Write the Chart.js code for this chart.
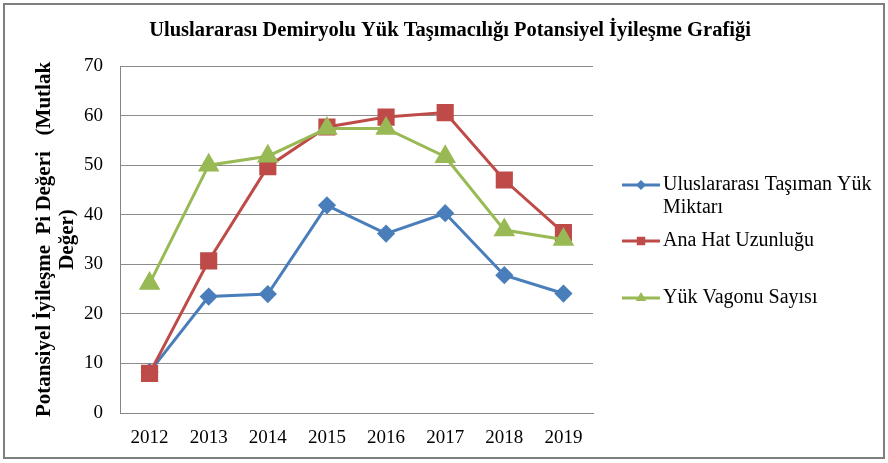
<!DOCTYPE html>
<html>
<head>
<meta charset="utf-8">
<script src="https://cdn.jsdelivr.net/npm/chart.js@4/dist/chart.umd.min.js"></script>
<style>
  html, body { margin: 0; padding: 0; background: #fff; }
  #wrap { position: relative; width: 888px; height: 463px; }
  #frame { position: absolute; left: 3px; top: 3px; width: 878px; height: 452px; border: 2px solid #7f7f7f; pointer-events: none; }
  canvas { display: block; }
</style>
</head>
<body>
<div id="wrap">
  <canvas id="chart" width="888" height="463"></canvas>
  <div id="frame"></div>
</div>
<script>
// --- Veriler ---
const years = ['2012', '2013', '2014', '2015', '2016', '2017', '2018', '2019'];
const tasimanYuk = [8.3, 23.5, 24.0, 41.9, 36.2, 40.3, 27.8, 24.1];
const anaHat = [8.0, 30.7, 49.7, 57.7, 59.7, 60.6, 47.0, 36.4];
const vagonSayisi = [26.1, 50.0, 51.8, 57.4, 57.4, 51.7, 36.9, 35.0];

const chartTitle = 'Uluslararası Demiryolu Yük Taşımacılığı Potansiyel İyileşme Grafiği';
const yTitle = ['Potansiyel İyileşme  Pi Değeri   (Mutlak', 'Değer)'];
const legendLabels = [['Uluslararası Taşıman Yük', 'Miktarı'], ['Ana Hat Uzunluğu'], ['Yük Vagonu Sayısı']];

const serif = "'Liberation Serif', 'Times New Roman', serif";

// Başlık ve lejant (Excel tarzı) - elle çiziliyor
const titleLegendPlugin = {
    id: 'titleLegend',
    afterDraw(chart) {
        const ctx = chart.ctx;
        ctx.save();
        ctx.fillStyle = '#000';
        ctx.font = 'bold 20.5px ' + serif;
        ctx.textAlign = 'center';
        ctx.textBaseline = 'middle';
        ctx.fillText(chartTitle, 450, 31);

        const itemY = [185, 241, 298];
        ctx.font = '20px ' + serif;
        ctx.textAlign = 'left';
        chart.data.datasets.forEach((ds, i) => {
            const y = itemY[i];
            ctx.strokeStyle = ds.borderColor;
            ctx.lineWidth = 3;
            ctx.beginPath();
            ctx.moveTo(622, y);
            ctx.lineTo(660, y);
            ctx.stroke();
            ctx.fillStyle = ds.pointBackgroundColor;
            Chart.helpers.drawPoint(ctx, {
                pointStyle: ds.pointStyle,
                radius: ds.legendRadius,
                borderWidth: 0
            }, 641, y);
            ctx.fillStyle = '#000';
            legendLabels[i].forEach((line, j) => {
                ctx.fillText(line, 663, y + j * 23);
            });
        });
        ctx.restore();
    }
};

const ctx = document.getElementById('chart').getContext('2d');

new Chart(ctx, {
    type: 'line',
    data: {
        labels: years,
        datasets: [{
            label: 'Uluslararası Taşıman Yük Miktarı',
            data: tasimanYuk,
            borderColor: '#4A7EBB',
            backgroundColor: '#4A7EBB',
            pointBackgroundColor: '#4A7EBB',
            pointBorderColor: '#4A7EBB',
            pointStyle: 'rectRot',
            pointRadius: 7,
            legendRadius: 5,
            borderWidth: 3,
            tension: 0,
            order: 2
        }, {
            label: 'Ana Hat Uzunluğu',
            data: anaHat,
            borderColor: '#BE4B48',
            backgroundColor: '#BE4B48',
            pointBackgroundColor: '#BE4B48',
            pointBorderColor: '#BE4B48',
            pointStyle: 'rect',
            pointRadius: 10,
            legendRadius: 6,
            borderWidth: 3,
            tension: 0,
            order: 1
        }, {
            label: 'Yük Vagonu Sayısı',
            data: vagonSayisi,
            borderColor: '#98B954',
            backgroundColor: '#98B954',
            pointBackgroundColor: '#98B954',
            pointBorderColor: '#98B954',
            pointStyle: 'triangle',
            pointRadius: 9.5,
            legendRadius: 6,
            borderWidth: 3,
            tension: 0,
            order: 0
        }]
    },
    options: {
        responsive: false,
        animation: false,
        layout: {
            padding: { top: 66, right: 295, bottom: 0, left: 0 }
        },
        plugins: {
            legend: { display: false },
            title: { display: false },
            tooltip: { enabled: false }
        },
        scales: {
            x: {
                offset: true,
                grid: { display: false, drawTicks: false },
                border: { display: true, color: '#868686', width: 1 },
                ticks: {
                    color: '#000',
                    font: { family: serif, size: 19 },
                    padding: 14,
                    maxRotation: 0
                },
                afterFit(scale) { scale.height = 50; }
            },
            y: {
                min: 0,
                max: 70,
                ticks: {
                    stepSize: 10,
                    color: '#000',
                    font: { family: serif, size: 19 },
                    padding: 17
                },
                grid: { color: '#8c8c8c', lineWidth: 1, drawTicks: false },
                border: { display: true, color: '#868686', width: 1 },
                title: {
                    display: true,
                    text: yTitle,
                    color: '#000',
                    font: { family: serif, size: 21, weight: 'bold', lineHeight: 1.1 },
                    padding: { top: 33, bottom: 0 }
                },
                afterFit(scale) { scale.width = 120; }
            }
        }
    },
    plugins: [titleLegendPlugin]
});
</script>
</body>
</html>
